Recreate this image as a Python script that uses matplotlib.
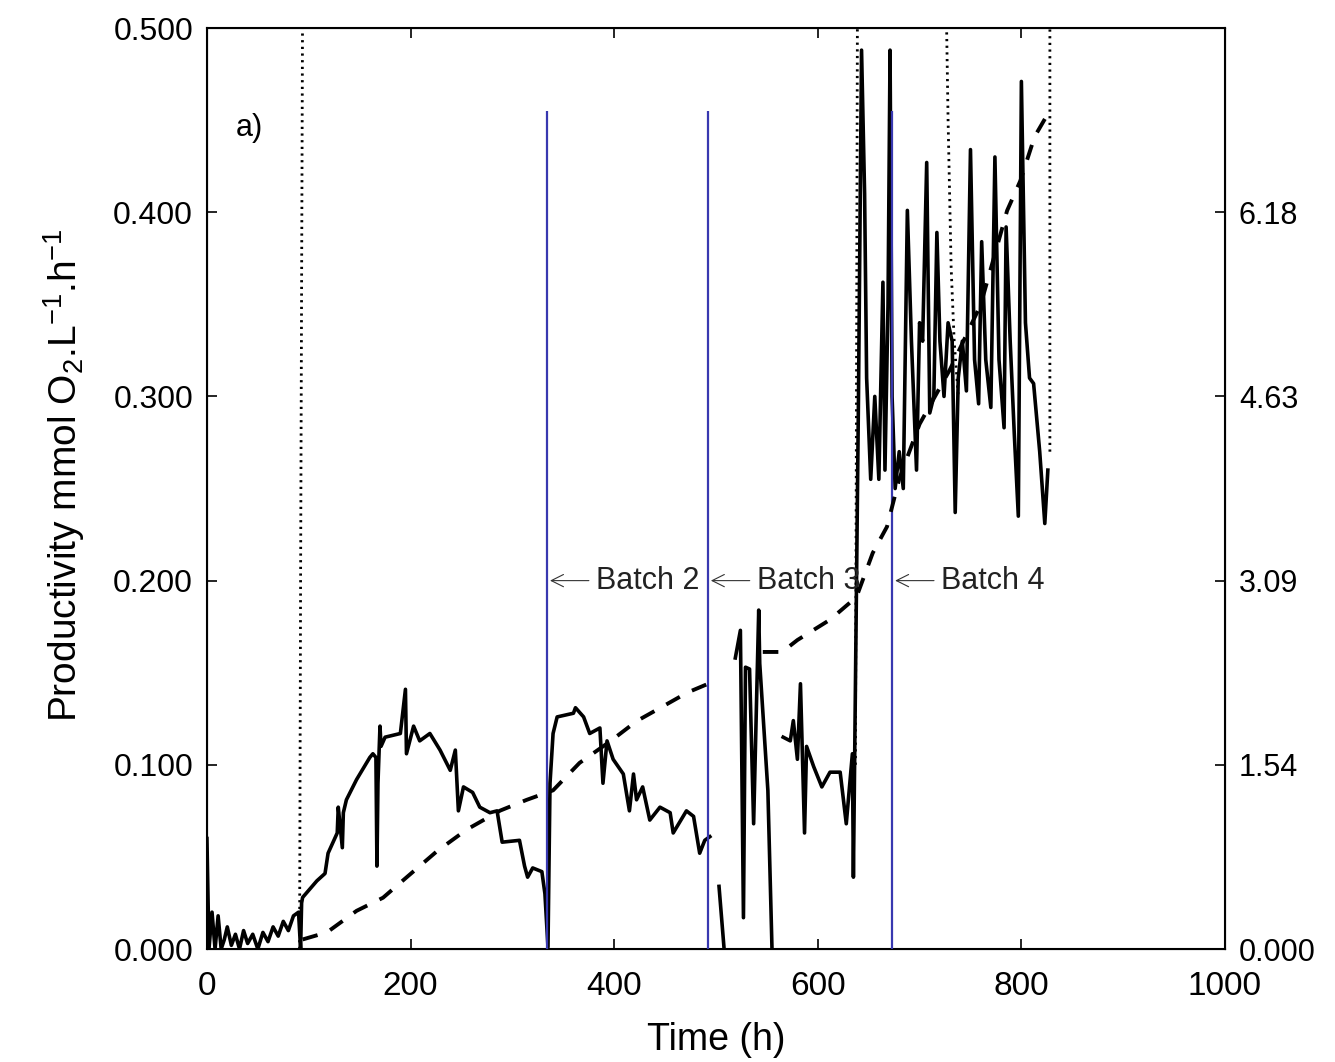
import numpy as np
import matplotlib
matplotlib.use('Agg')
import matplotlib.pyplot as plt

nan = np.nan

# Productivity (solid line), left axis
prod_t = [0, 2, 5, 8, 11, 14, 17, 20, 24, 28, 32, 36, 40, 45, 50, 55, 60, 65, 70, 75, 80, 85, 90, 92, 93,
          94, 108, 116, 119, 128, 129, 133, 134, 137, 147, 160, 163, 166, 167, 168, 170, 171, 175, 190, 195,
          196, 203, 209, 219, 229, 239, 244, 247, 252, 261, 268, 278, 285, 290, 307, 312, 315, 320, 329, 332,
          335, 337, 340, 344, 360, 362, 370, 376, 386, 389, 393, 399, 409, 415, 419, 422, 428, 435, 445, 455,
          458, 471, 478, 484, 489, 494, nan,
          503, 508, nan,
          519, 524, 527, 529, 533, 537, 542, 543, 551, 555, nan,
          566, 573, 576, 580, 583, 587, 589, 596, 604, 612, 622, 628, 634, 635,
          640, 643, 646, 648, 652, 656, 660, 664, 666, 669, 671, 673, 676, 680, 684, 688, 692, 697, 700, 703,
          707, 710, 714, 717, 720, 724, 728, 732, 735, 738, 742, 746, 750, 754, 758, 761, 765, 770, 774, 778,
          783, 785, 789, 793, 797, 800, 804, 808, 812, 818, 823, 826]
prod_v = [0.060, 0.000, 0.020, 0.000, 0.018, 0.000, 0.005, 0.012, 0.002, 0.008, 0.000, 0.010, 0.003, 0.008,
          0.000, 0.009, 0.004, 0.012, 0.007, 0.015, 0.010, 0.018, 0.020, 0.000, 0.025,
          0.028, 0.037, 0.041, 0.052, 0.063, 0.077, 0.055, 0.074, 0.081, 0.092, 0.104, 0.106, 0.104, 0.045,
          0.090, 0.121, 0.110, 0.115, 0.117, 0.141, 0.106, 0.121, 0.113, 0.117, 0.108, 0.097, 0.108, 0.075,
          0.088, 0.085, 0.077, 0.074, 0.075, 0.058, 0.059, 0.045, 0.039, 0.044, 0.042, 0.030,
          0.001, 0.090, 0.117, 0.126, 0.128, 0.131, 0.126, 0.117, 0.120, 0.090, 0.113, 0.103, 0.095, 0.075,
          0.095, 0.081, 0.088, 0.070, 0.077, 0.074, 0.063, 0.075, 0.072, 0.052, 0.059, 0.061, nan,
          0.034, 0.000, nan,
          0.158, 0.173, 0.017, 0.153, 0.152, 0.068, 0.184, 0.155, 0.086, 0.001, nan,
          0.115, 0.113, 0.124, 0.103, 0.144, 0.063, 0.110, 0.099, 0.088, 0.096, 0.096, 0.068, 0.106, 0.039,
          0.300, 0.488, 0.410, 0.310, 0.255, 0.300, 0.255, 0.362, 0.260, 0.350, 0.488, 0.300, 0.250, 0.270,
          0.250, 0.401, 0.330, 0.260, 0.340, 0.330, 0.427, 0.291, 0.300, 0.389, 0.330, 0.300, 0.340, 0.330,
          0.237, 0.310, 0.330, 0.303, 0.434, 0.320, 0.296, 0.384, 0.320, 0.294, 0.430, 0.320, 0.283, 0.392,
          0.330, 0.280, 0.235, 0.471, 0.340, 0.310, 0.307, 0.270, 0.231, 0.260]

# Cumulative series (dashed line), right axis
cum_t = [94, 118, 147, 173, 196, 226, 255, 288, 314, 340, 366, 396, 422, 445, 472, 497, nan,
         546, 565, 580, 612, 638, 654, 668, 680, 700, 730, 760, 786, 799, 813, 828]
cum_v = [0.08, 0.14, 0.32, 0.43, 0.60, 0.82, 1.00, 1.16, 1.25, 1.33, 1.56, 1.74, 1.91, 2.02, 2.15, 2.24, nan,
         2.49, 2.49, 2.59, 2.76, 2.95, 3.32, 3.54, 3.94, 4.40, 4.86, 5.40, 6.19, 6.44, 6.81, 7.03]

# Dotted series
dot_t = [91, 92, 94, nan, 637, 638, 639, nan, 726, 728, 731, 734, 738, nan, 828, 828]
dot_v = [0.0, 0.2, 0.52, nan, 0.10, 0.3, 0.52, nan, 0.52, 0.45, 0.37, 0.33, 0.30, nan, 0.27, 0.52]

# Batch starts
batch_t = [334, 492, 673]
batch_labels = ['Batch 2', 'Batch 3', 'Batch 4']
batch_top = 0.455

left_ticks = [0.0, 0.1, 0.2, 0.3, 0.4, 0.5]
left_labels = ['0.000', '0.100', '0.200', '0.300', '0.400', '0.500']
right_ticks = [0.0, 1.544, 3.088, 4.632, 6.176]
right_labels = ['0.000', '1.54', '3.09', '4.63', '6.18']

plt.rcParams['mathtext.fontset'] = 'custom'
plt.rcParams['mathtext.rm'] = 'Liberation Sans'
plt.rcParams['mathtext.default'] = 'regular'
arial = ['Liberation Sans', 'DejaVu Sans']

fig = plt.figure(figsize=(13.35, 10.62), dpi=100)
ax = fig.add_axes([0.155, 0.1064, 0.7626, 0.8672])
ax2 = ax.twinx()

ax.plot(prod_t, prod_v, color='black', lw=2.6, zorder=3)
ax.plot(dot_t, dot_v, color='black', lw=2.0, dashes=(0.8, 1.6), zorder=2)
ax.vlines(batch_t, 0, batch_top, colors='#3838b0', lw=1.6, zorder=4)
ax2.plot(cum_t, cum_v, color='black', lw=2.8, dashes=(4, 3.5), zorder=3)

for t, lab in zip(batch_t, batch_labels):
    ax.annotate(lab, xy=(t + 3, 0.2), xytext=(t + 48, 0.2), fontsize=22, family=arial,
                va='center', ha='left', color='#222222',
                arrowprops=dict(arrowstyle='->', lw=0.8, color='#333333', shrinkA=3, shrinkB=0))

ax.text(42, 0.446, 'a)', fontsize=22, family=arial, va='center', ha='center')

ax.set_xlim(0, 1000)
ax.set_ylim(0, 0.5)
ax2.set_ylim(0, 7.72)
ax.set_xticks([0, 200, 400, 600, 800, 1000])
ax.set_xticklabels(['0', '200', '400', '600', '800', '1000'], family=arial, fontsize=24)
ax.set_yticks(left_ticks)
ax.set_yticklabels(left_labels, family=arial, fontsize=23)
ax2.set_yticks(right_ticks)
ax2.set_yticklabels(right_labels, family=arial, fontsize=22)

ax.tick_params(axis='both', direction='in', length=7, width=1.2, top=True, right=False)
ax.tick_params(axis='x', pad=16)
ax.tick_params(axis='y', pad=10)
ax2.tick_params(axis='y', direction='in', length=7, width=1.2, pad=10)
for sp in ax.spines.values():
    sp.set_linewidth(1.5)

ax.set_xlabel('Time (h)', family=arial, fontsize=27, labelpad=14)
ax.set_ylabel(r'Productivity mmol O$_2$.L$^{-1}$.h$^{-1}$', family=arial, fontsize=28, labelpad=10)
ax.yaxis.set_label_coords(-0.118, 0.515)

fig.savefig('out.png', dpi=100)
